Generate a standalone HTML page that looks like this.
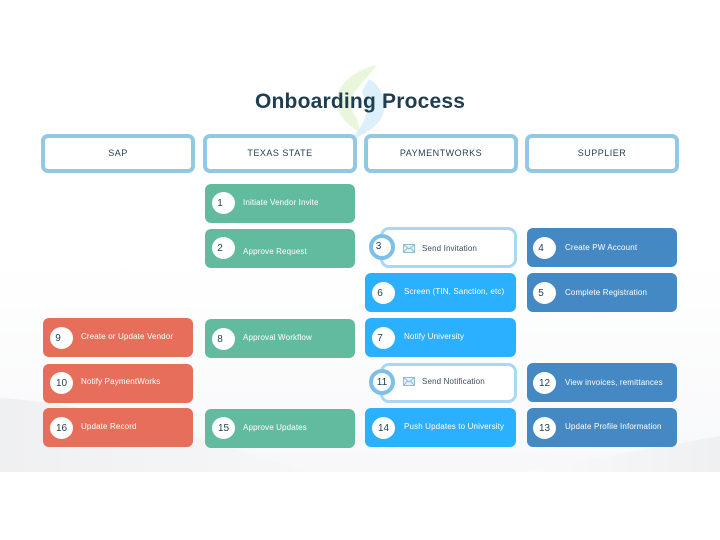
<!DOCTYPE html>
<html>
<head>
<meta charset="utf-8">
<style>
html,body{margin:0;padding:0;background:#fff}
#p{position:relative;width:720px;height:540px;overflow:hidden;font-family:"Liberation Sans",sans-serif;background:#fff}
#p svg{position:absolute;left:0;top:0}
.h{position:absolute;box-sizing:border-box;width:154px;height:39px;top:134px;border:4px solid #93c8e4;border-radius:7px;background:#fff;text-align:center;font-size:9px;line-height:31px;color:#1f3d50;letter-spacing:.5px}
.c{position:absolute;width:150px;height:38.5px;border-radius:6px}
.g{background:#62bb9f}.r{background:#e76e5b}.l{background:#2bafff}.d{background:#4488c4}
.o{position:absolute;box-sizing:border-box;left:380px;width:137px;border:3.5px solid #a8d8f4;border-radius:9px;background:#fff}
.n{position:absolute;width:23px;height:22px;border-radius:50%;background:#fff;color:#1f3d50;font-size:10px;line-height:23px;text-align:center}
.s{text-indent:-7px}
.ring{position:absolute;box-sizing:border-box;width:26px;height:26px;left:369px;border:4px solid #7cc0ea;border-radius:50%;background:#fff;color:#1f3d50;font-size:10px;line-height:18px;text-align:center}
.t{position:absolute;font-size:8px;line-height:10px;color:#fff;white-space:nowrap;letter-spacing:.14px;margin-top:1px}
.k{color:#3a4f5c}
#title{position:absolute;left:255px;top:90px;font-size:21px;line-height:24px;font-weight:bold;color:#1f3d50;white-space:nowrap;letter-spacing:.2px}
</style>
</head>
<body>
<div id="p">
<svg width="720" height="540" viewBox="0 0 720 540">
<defs>
<linearGradient id="bg" x1="0" y1="0" x2="0" y2="1">
<stop offset="0" stop-color="#fff"/><stop offset=".55" stop-color="#fff"/><stop offset="1" stop-color="#f7f8fa"/>
</linearGradient>
<linearGradient id="lg" x1="0" y1="0" x2="1" y2="0">
<stop offset="0" stop-color="#eff0f2"/><stop offset="1" stop-color="#f6f7f8"/>
</linearGradient>
<linearGradient id="rg" x1="0" y1="0" x2="1" y2="0">
<stop offset="0" stop-color="#fafafb"/><stop offset="1" stop-color="#eff0f2"/>
</linearGradient>
</defs>
<rect x="0" y="0" width="720" height="472" fill="url(#bg)"/>
<path d="M0 398C90 403 180 432 310 472H0Z" fill="url(#lg)"/>
<path d="M520 472C590 459 660 447 720 436V472Z" fill="url(#rg)"/>
<path d="M377 65C355 70 336 84 337 102C338 116 348 126 360 132L357 118C350 110 349 98 356 90C362 83 370 74 377 65Z" fill="#e9f6dc"/>
<path d="M369 79C380 85 386 98 384 110C382 124 366 134 351 140C358 130 366 122 367 110C368 100 361 94 362 91Z" fill="#dcf0fb"/>
</svg>

<div id="title">Onboarding Process</div>

<div class="h" style="left:41px">SAP</div>
<div class="h" style="left:203px">TEXAS STATE</div>
<div class="h" style="left:364px">PAYMENTWORKS</div>
<div class="h" style="left:525px">SUPPLIER</div>

<div class="c g" style="left:205px;top:184px"></div>
<div class="c g" style="left:205px;top:229px"></div>
<div class="c g" style="left:205px;top:319px"></div>
<div class="c g" style="left:205px;top:409px"></div>

<div class="c r" style="left:43px;top:318px"></div>
<div class="c r" style="left:43px;top:364px"></div>
<div class="c r" style="left:43px;top:408px"></div>

<div class="c l" style="left:365px;top:273px;width:151px"></div>
<div class="c l" style="left:365px;top:318px;width:151px"></div>
<div class="c l" style="left:365px;top:408px;width:151px"></div>

<div class="c d" style="left:527px;top:228px"></div>
<div class="c d" style="left:527px;top:273px"></div>
<div class="c d" style="left:527px;top:363px"></div>
<div class="c d" style="left:527px;top:408px"></div>

<div class="o" style="top:227px;height:41px"></div>
<div class="o" style="top:363px;height:40px"></div>

<div class="n s" style="left:212px;top:192px">1</div>
<div class="n s" style="left:212px;top:237px">2</div>
<div class="n s" style="left:212px;top:328px">8</div>
<div class="n" style="left:212px;top:417px">15</div>
<div class="n s" style="left:50px;top:327px">9</div>
<div class="n" style="left:50px;top:372px">10</div>
<div class="n" style="left:50px;top:417px">16</div>
<div class="n s" style="left:372px;top:282px">6</div>
<div class="n s" style="left:372px;top:327px">7</div>
<div class="n" style="left:372px;top:417px">14</div>
<div class="n s" style="left:533px;top:237px">4</div>
<div class="n s" style="left:533px;top:282px">5</div>
<div class="n" style="left:533px;top:372px">12</div>
<div class="n" style="left:533px;top:417px">13</div>

<div class="ring s" style="top:234px">3</div>
<div class="ring" style="top:369px;line-height:19px">11</div>

<svg width="720" height="540" viewBox="0 0 720 540">
<g fill="#e8f3f8" stroke="#8fbccf" stroke-width="1">
<rect x="403.500" y="244.500" width="11" height="8"/>
<path d="M403.500 244.500L409 249L414.500 244.500M403.500 252.500L407.500 248M414.500 252.500L410.500 248" fill="none"/>
<rect x="403.500" y="377.500" width="11" height="8"/>
<path d="M403.500 377.500L409 382L414.500 377.500M403.500 385.500L407.500 381M414.500 385.500L410.500 381" fill="none"/>
</g>
</svg>

<div class="t" style="left:243px;top:197px">Initiate Vendor Invite</div>
<div class="t" style="left:243px;top:246px">Approve Request</div>
<div class="t" style="left:243px;top:332px">Approval Workflow</div>
<div class="t" style="left:243px;top:422px">Approve Updates</div>
<div class="t" style="left:81px;top:331px">Create or Update Vendor</div>
<div class="t" style="left:81px;top:376px">Notify PaymentWorks</div>
<div class="t" style="left:81px;top:421px">Update Record</div>
<div class="t" style="left:404px;top:286px">Screen (TIN, Sanction, etc)</div>
<div class="t" style="left:404px;top:331px">Notify University</div>
<div class="t" style="left:404px;top:421px">Push Updates to University</div>
<div class="t k" style="left:422px;top:243px">Send Invitation</div>
<div class="t k" style="left:422px;top:376px">Send Notification</div>
<div class="t" style="left:565px;top:242px">Create PW Account</div>
<div class="t" style="left:565px;top:287px">Complete Registration</div>
<div class="t" style="left:565px;top:377px">View invoices, remittances</div>
<div class="t" style="left:565px;top:421px">Update Profile Information</div>
</div>
</body>
</html>
